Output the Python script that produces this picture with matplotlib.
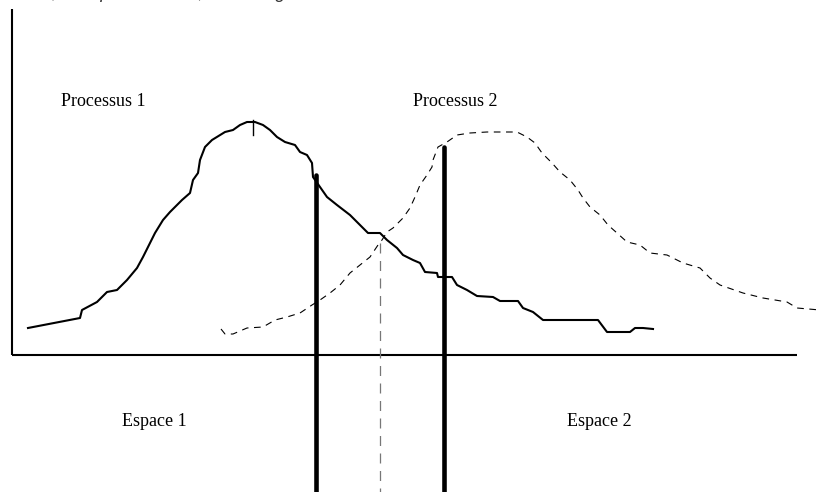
"""
Schéma : deux processus, deux espaces, frontières de décision
"""

import matplotlib
matplotlib.use("Agg")
import matplotlib.pyplot as plt

# coordonnées du schéma : origine au croisement des axes, 1 unité = 1 px
# courbe du processus 1 (trait plein, en escalier)
p1_x = [16, 68, 70, 85, 95, 105, 115, 125, 131, 136, 143, 151, 158, 165, 170,
        178, 181, 186, 188, 193, 200, 213, 221, 228, 235, 243, 251, 258, 265,
        273, 283, 288, 295, 300, 301, 308, 315, 325, 338, 348, 356, 368, 375,
        385, 391, 401, 408, 413, 425, 426, 440, 445, 455, 465, 481, 488, 506,
        511, 521, 531, 586, 595, 618, 623, 631, 641]
p1_y = [27, 37, 45, 53, 63, 65, 75, 87, 98, 108, 122, 135, 143, 150, 155,
        162, 175, 182, 195, 208, 215, 223, 225, 230, 233, 233, 230, 225, 218,
        213, 210, 203, 200, 192, 178, 168, 158, 150, 140, 130, 122, 122, 115,
        107, 100, 95, 92, 83, 82, 78, 78, 70, 65, 59, 58, 54, 54,
        47, 43, 35, 35, 23, 23, 27, 27, 26]

# courbe du processus 2 (pointillés)
p2_x = [209, 213, 221, 235, 251, 263, 275, 288, 300, 308, 318, 328, 338, 348,
        358, 366, 370, 375, 381, 391, 398, 403, 408, 415, 420, 421, 426, 435,
        445, 458, 475, 505, 515, 523, 530, 540, 548, 558, 566, 571, 578, 588,
        596, 605, 615, 628, 638, 655, 671, 688, 698, 708, 731, 751, 775, 785,
        808]
p2_y = [26, 21, 21, 27, 28, 35, 38, 42, 50, 55, 62, 70, 82, 90,
        98, 110, 115, 123, 127, 137, 147, 158, 170, 180, 188, 195, 208, 213,
        220, 222, 223, 223, 218, 212, 202, 192, 183, 175, 165, 157, 148, 140,
        130, 122, 113, 110, 102, 100, 92, 87, 77, 70, 62, 57, 53, 47,
        45]

# frontières (x, sommet)
front_x = [304, 432]
front_top = [180, 208]
seuil_x = 368
seuil_top = 112
pic = (241, 220, 235)

labels = ["Processus 1", "Processus 2", "Espace 1", "Espace 2"]
label_pos = [(49, 253), (401, 253), (110, -66), (555, -66)]
top_text = "rations, d'un point de vue, on distingue deux classes de m"

fig = plt.figure(figsize=(8.21, 4.92), dpi=100)
ax = fig.add_axes([0, 0, 1, 1])
ax.set_xlim(-12, 809)
ax.set_ylim(-137, 355)
ax.set_axis_off()

# axes du schéma
ax.plot([0, 0], [0, 346], color="black", lw=1.5, solid_capstyle="butt")
ax.plot([0, 785], [0, 0], color="black", lw=1.5, solid_capstyle="butt")

ax.plot(p1_x, p1_y, color="black", lw=1.5)
ax.plot([pic[0], pic[0]], [pic[1], pic[2]], color="black", lw=1)
line2, = ax.plot(p2_x, p2_y, color="black", lw=0.8)
line2.set_dashes((6, 5))

for x, top in zip(front_x, front_top):
    ax.plot([x, x], [top, -140], color="black", lw=3.3, solid_capstyle="round")

lv, = ax.plot([seuil_x, seuil_x], [seuil_top, -140], color="#777777", lw=0.9)
lv.set_dashes((8, 6))

for txt, (x, y) in zip(labels, label_pos):
    ax.text(x, y, txt, fontsize=13, family="Liberation Serif",
            ha="left", va="center")

# ligne de texte du document, coupée par le bord du haut
ax.text(-14, 357.5, top_text, fontsize=13, family="Liberation Sans",
        style="italic", ha="left", va="baseline", color="#333333")

fig.savefig("out.png", dpi=100)
